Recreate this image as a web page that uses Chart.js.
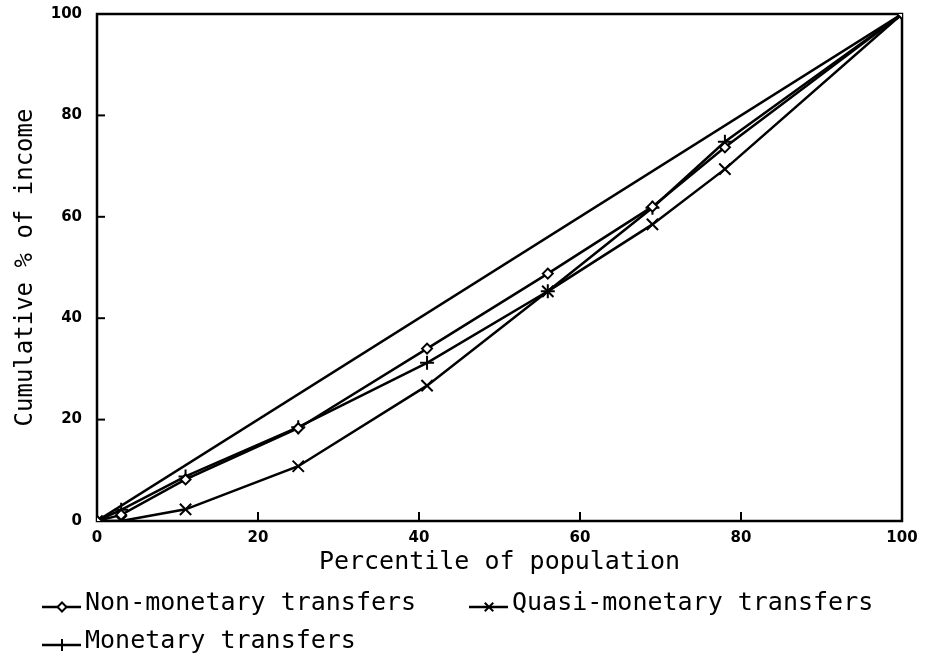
<!DOCTYPE html>
<html><head><meta charset="utf-8">
<script src="https://cdn.jsdelivr.net/npm/chart.js@4/dist/chart.umd.min.js"></script>
<style>html,body{margin:0;padding:0;background:#fff;overflow:hidden}</style>
</head><body>
<canvas id="c" width="927" height="655"></canvas>
<script>
const percentile    = [0, 3, 11, 25, 41, 56, 69, 78, 100];
const nonMonetary   = [0, 1.2, 8.2, 18.3, 34.0, 48.8, 62.0, 73.7, 100];
const quasiMonetary = [0, 0.0, 2.3, 10.8, 26.7, 45.3, 58.5, 69.4, 100];
const monetary      = [0, 2.2, 8.8, 18.5, 31.2, 45.3, 61.8, 74.8, 100];
const equalityX = [0, 100];
const equalityY = [0, 100];
const seriesNames = ['Non-monetary transfers', 'Quasi-monetary transfers', 'Monetary transfers'];
const xTitle = 'Percentile of population';
const yTitle = 'Cumulative % of income';

const toPts = (xs, ys) => xs.map((x, i) => ({x: x, y: ys[i]}));
const TXT = '25px "DejaVu Sans Mono"';
const TICKFONT = {family: 'DejaVu Sans', size: 15, weight: 'bold'};

function drawMarker(ctx, style, x, y, r) {
  ctx.beginPath();
  if (style === 'rectRot') {
    ctx.moveTo(x, y - r); ctx.lineTo(x + r, y); ctx.lineTo(x, y + r); ctx.lineTo(x - r, y); ctx.closePath();
    ctx.fillStyle = '#fff'; ctx.fill(); ctx.stroke();
  } else if (style === 'cross') {
    ctx.moveTo(x, y - r); ctx.lineTo(x, y + r); ctx.moveTo(x - r, y); ctx.lineTo(x + r, y); ctx.stroke();
  } else if (style === 'crossRot') {
    const d = r * 0.7071;
    ctx.moveTo(x - d, y - d); ctx.lineTo(x + d, y + d); ctx.moveTo(x + d, y - d); ctx.lineTo(x - d, y + d); ctx.stroke();
  }
}

const framePlugin = {
  id: 'frame',
  beforeDatasetsDraw(chart) {
    const {ctx, chartArea: a, scales} = chart;
    ctx.save();
    ctx.strokeStyle = '#000'; ctx.lineWidth = 2.5;
    ctx.strokeRect(a.left, a.top, a.right - a.left, a.bottom - a.top);
    ctx.lineWidth = 2;
    scales.y.ticks.forEach(t => {
      const py = scales.y.getPixelForValue(t.value);
      ctx.beginPath(); ctx.moveTo(a.left, py); ctx.lineTo(a.left + 8, py); ctx.stroke();
    });
    scales.x.ticks.forEach(t => {
      const px = scales.x.getPixelForValue(t.value);
      ctx.beginPath(); ctx.moveTo(px, a.bottom); ctx.lineTo(px, a.bottom - 9); ctx.stroke();
    });
    ctx.restore();
  }
};

const legendPlugin = {
  id: 'customLegend',
  afterDraw(chart) {
    const {ctx} = chart;
    const items = [
      {ds: 0, x: 42, y: 607},
      {ds: 1, x: 469, y: 607},
      {ds: 2, x: 42, y: 645}
    ];
    ctx.save();
    items.forEach(it => {
      const ds = chart.data.datasets[it.ds];
      ctx.strokeStyle = '#000'; ctx.lineWidth = 2.5;
      ctx.beginPath(); ctx.moveTo(it.x, it.y); ctx.lineTo(it.x + 39, it.y); ctx.stroke();
      ctx.lineWidth = 2;
      drawMarker(ctx, ds.pointStyle, it.x + 20, it.y, ds.pointStyle === 'rectRot' ? 4.5 : 6);
      ctx.fillStyle = '#000'; ctx.font = TXT; ctx.textBaseline = 'middle'; ctx.textAlign = 'left';
      ctx.fillText(ds.label, it.x + 43, it.y - 4);
    });
    ctx.restore();
  }
};

new Chart(document.getElementById('c'), {
  type: 'scatter',
  data: {
    datasets: [
      {label: seriesNames[0], data: toPts(percentile, nonMonetary), showLine: true, borderColor: '#000', borderWidth: 2.5,
       pointStyle: 'rectRot', pointRadius: 5, pointBorderWidth: 2, pointBackgroundColor: '#fff', pointBorderColor: '#000'},
      {label: seriesNames[1], data: toPts(percentile, quasiMonetary), showLine: true, borderColor: '#000', borderWidth: 2.5,
       pointStyle: 'crossRot', pointRadius: 8, pointBorderWidth: 2, pointBorderColor: '#000'},
      {label: seriesNames[2], data: toPts(percentile, monetary), showLine: true, borderColor: '#000', borderWidth: 2.5,
       pointStyle: 'cross', pointRadius: 7, pointBorderWidth: 2, pointBorderColor: '#000'},
      {label: 'Equality', data: toPts(equalityX, equalityY), showLine: true, borderColor: '#000', borderWidth: 2.5,
       pointRadius: 0}
    ]
  },
  options: {
    responsive: false,
    animation: false,
    devicePixelRatio: 1,
    layout: {padding: {left: 0, top: 14, right: 25, bottom: 78}},
    plugins: {legend: {display: false}, tooltip: {enabled: false}},
    scales: {
      x: {
        type: 'linear', min: 0, max: 100,
        ticks: {stepSize: 20, color: '#000', font: TICKFONT, padding: 8, maxRotation: 0},
        grid: {display: false, drawTicks: false},
        border: {display: false},
        title: {display: true, text: xTitle, color: '#000', font: {family: 'DejaVu Sans Mono', size: 25}, padding: {top: 0, bottom: 0}},
        afterFit(s) { s.height = 56; s.paddingLeft = 0; s.paddingRight = 0; }
      },
      y: {
        type: 'linear', min: 0, max: 100,
        ticks: {stepSize: 20, color: '#000', font: TICKFONT, padding: 15},
        grid: {display: false, drawTicks: false},
        border: {display: false},
        title: {display: true, text: yTitle, color: '#000', font: {family: 'DejaVu Sans Mono', size: 24}, padding: {top: 11, bottom: 0}},
        afterFit(s) { s.width = 97; s.paddingTop = 0; s.paddingBottom = 0; }
      }
    }
  },
  plugins: [framePlugin, legendPlugin]
});
</script>
</body></html>
